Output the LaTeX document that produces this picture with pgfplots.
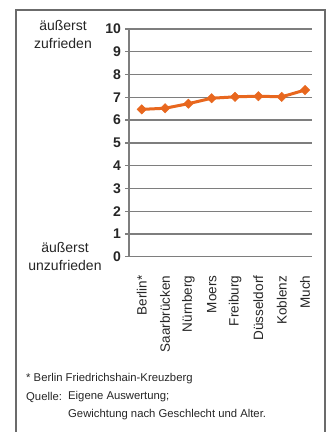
\documentclass[border=0pt]{standalone}
\usepackage{pgfplots}
\pgfplotsset{compat=1.18}
\usepackage{fontspec}
\setmainfont{Liberation Sans}
\definecolor{lineor}{HTML}{E8671E}
\definecolor{gridg}{HTML}{7E7E7E}
\definecolor{txt}{HTML}{262626}
\begin{document}
\begin{tikzpicture}[x=1pt,y=1pt]
\useasboundingbox (0,0) rectangle (329,432);
\fill[white] (0,0) rectangle (329,432);
\draw[gridg!85!black, line width=1.3pt] (16,-5) -- (16,422) -- (325,422) -- (325,-5);
\begin{axis}[
  at={(129pt,175.3pt)}, anchor=south west,
  scale only axis, width=183pt, height=227.7pt,
  xmin=-0.545, xmax=7.3, ymin=0, ymax=10,
  axis x line*=bottom, axis y line*=left,
  axis line style={gridg, line width=1.3pt},
  ymajorgrids, grid style={gridg, line width=1.3pt},
  ytick={0,1,...,10},
  xtick={0,...,7},
  xticklabels={Berlin*,Saarbrücken,Nürnberg,Moers,Freiburg,Düsseldorf,Koblenz,Much},
  x tick label style={rotate=90, anchor=east, font=\fontsize{13.5}{14}\selectfont, text=txt},
  xticklabel shift={12pt},
  y tick label style={font=\fontsize{14}{15}\selectfont\bfseries, text=txt},
  yticklabel shift={1pt},
  /pgf/number format/assume math mode=true,
  major x tick style={draw=none},
  major y tick style={gridg, line width=1.3pt},
  tick align=outside, major tick length=3.5pt,
  clip=false,
]
\addplot[color=lineor, line width=3pt, mark=square*, mark size=3.3pt, mark options={rotate=45, line width=0.5pt}]
  coordinates {(0,6.47) (1,6.52) (2,6.72) (3,6.96) (4,7.02) (5,7.05) (6,7.02) (7,7.32)};
\end{axis}
\node[align=center, font=\fontsize{14}{18}\selectfont, text=txt] at (63,398) {äußerst\\zufrieden};
\node[align=center, font=\fontsize{14}{17.5}\selectfont, text=txt] at (65,175.5) {äußerst\\unzufrieden};
\node[anchor=west, inner sep=0pt, font=\fontsize{11.3}{13}\selectfont, text=txt] at (26,53) {* Berlin Friedrichshain-Kreuzberg};
\node[anchor=west, inner sep=0pt, font=\fontsize{11.3}{13}\selectfont, text=txt] at (26,35) {Quelle:};
\node[anchor=west, inner sep=0pt, font=\fontsize{11.3}{13}\selectfont, text=txt] at (68,35) {Eigene Auswertung;};
\node[anchor=west, inner sep=0pt, font=\fontsize{11.3}{13}\selectfont, text=txt] at (68,17) {Gewichtung nach Geschlecht und Alter.};
\end{tikzpicture}
\end{document}
